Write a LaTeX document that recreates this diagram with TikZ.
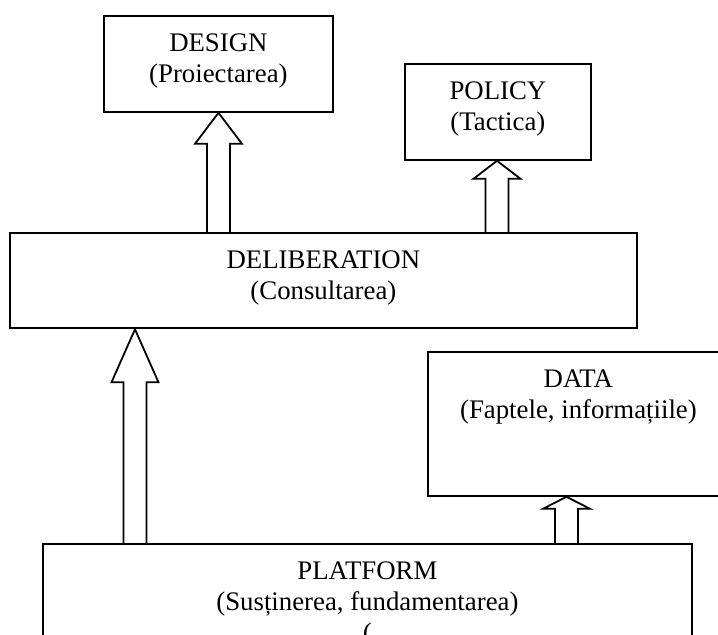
\documentclass[tikz,border=0pt]{standalone}
\usepackage{fontspec}
\setmainfont{Liberation Serif}
\usetikzlibrary{calc}

% hollow block arrow: #1 from, #2 to, #3 x position, #4 head length
\newcommand{\liftarrow}[4]{%
  \draw[liftline] let \p1=(#1.north), \p2=(#2.south), \p3=(#3,0) in
    (\x3-5.75pt,\y1) -- (\x3-5.75pt,\y2-#4) -- (\x3-11.75pt,\y2-#4) -- (\x3,\y2)
    -- (\x3+11.75pt,\y2-#4) -- (\x3+5.75pt,\y2-#4) -- (\x3+5.75pt,\y1);}

\begin{document}
\begin{tikzpicture}[x=0.5pt, y=-0.5pt,
    box/.style={rectangle, draw, line width=0.9pt, anchor=north west, align=center, inner sep=0pt,
      text height=33.5pt, font=\fontsize{13.4}{15.5}\selectfont},
    liftline/.style={line width=0.9pt, line join=miter}
]
    \useasboundingbox (0,0) rectangle (718,635);

    % Ebenen
    \node[box, minimum width=114.5pt, text depth=14.5pt] (design) at (103,15) {DESIGN\\(Proiectarea)};
    \node[box, minimum width=93pt, text depth=14.5pt] (policy) at (404,63) {POLICY\\(Tactica)};
    \node[box, minimum width=313.5pt, text depth=14.25pt] (delib) at (9,232) {DELIBERATION\\(Consultarea)};
    \node[box, minimum width=150.5pt, text depth=38.5pt] (data) at (427,351) {DATA\\(Faptele, informațiile)};
    \node[box, minimum width=324.5pt, text height=49pt, text depth=24.5pt] (platform) at (42,543)
        {PLATFORM\\(Susținerea, fundamentarea)\\(};

    % Pfeile
    \liftarrow{delib}{design}{218.5}{15.5pt}
    \liftarrow{delib}{policy}{497}{9pt}
    \liftarrow{platform}{delib}{135}{26.5pt}
    \liftarrow{platform}{data}{566.5}{6pt}
\end{tikzpicture}
\end{document}
